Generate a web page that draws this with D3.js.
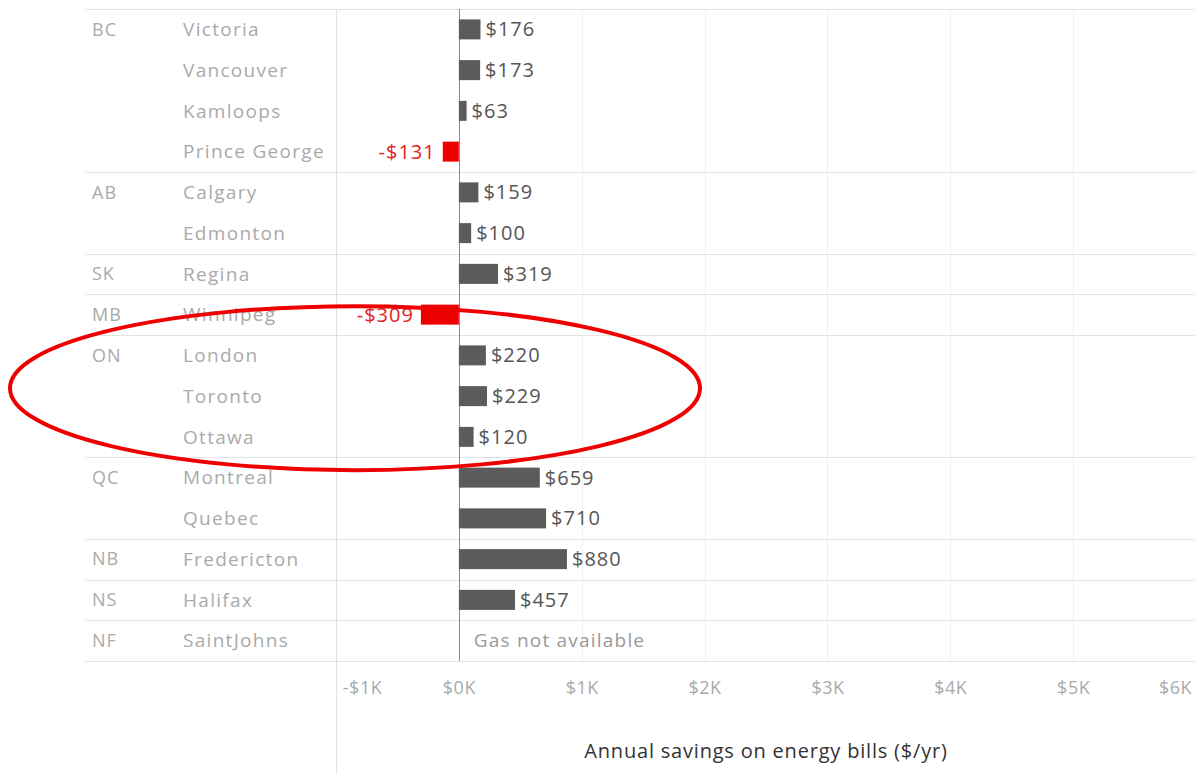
<!DOCTYPE html>
<html>
<head>
<meta charset="utf-8">
<script src="https://cdn.jsdelivr.net/npm/d3@7"></script>
<style>
  html, body { margin: 0; padding: 0; background: #fff; }
  svg { display: block; font-family: "Open Sans", sans-serif; }
</style>
</head>
<body>
<svg id="chart" width="1195" height="774"></svg>
<script>
// ---- data ----
const provinces = ["BC", "BC", "BC", "BC", "AB", "AB", "SK", "MB", "ON", "ON", "ON", "QC", "QC", "NB", "NS", "NF"];
const cities = ["Victoria", "Vancouver", "Kamloops", "Prince George", "Calgary", "Edmonton", "Regina", "Winnipeg",
                "London", "Toronto", "Ottawa", "Montreal", "Quebec", "Fredericton", "Halifax", "SaintJohns"];
const savings = [176, 173, 63, -131, 159, 100, 319, -309, 220, 229, 120, 659, 710, 880, 457, null];
const tickValues = [-1000, 0, 1000, 2000, 3000, 4000, 5000, 6000];
const axisTitle = "Annual savings on energy bills ($/yr)";
const missingNote = "Gas not available";
const highlighted = ["London", "Toronto", "Ottawa"];

// ---- layout ----
const svg = d3.select("#chart");
const W = 1195, H = 774;
const leftEdge = 85, paneLeft = 336, paneRight = 1196;
const topY = 9, bottomY = 661;

const x = d3.scaleLinear().domain([-1000, 6000]).range([paneLeft, paneRight]);
const y = d3.scaleBand().domain(cities).range([topY, bottomY]).paddingInner(0).paddingOuter(0);
const barH = 20;

const fmt = v => (v < 0 ? "-$" : "$") + Math.abs(v);
const tickFmt = v => (v < 0 ? "-$" : "$") + Math.abs(v / 1000) + "K";

// gridlines
svg.append("g").selectAll("line").data(tickValues.filter(v => v > 0)).join("line")
  .attr("x1", d => Math.round(x(d)) + 0.5).attr("x2", d => Math.round(x(d)) + 0.5)
  .attr("y1", topY).attr("y2", bottomY)
  .attr("stroke", "#f0f0f0").attr("stroke-width", 1);

// group separators (horizontal lines where province changes)
const sepRows = [0];
provinces.forEach((p, i) => { if (i > 0 && p !== provinces[i - 1]) sepRows.push(i); });
svg.append("g").selectAll("line").data(sepRows).join("line")
  .attr("x1", leftEdge).attr("x2", W)
  .attr("y1", d => Math.round(y(cities[d])) + 0.5).attr("y2", d => Math.round(y(cities[d])) + 0.5)
  .attr("stroke", "#e3e3e3").attr("stroke-width", 1.2);
svg.append("line").attr("x1", leftEdge).attr("x2", W)
  .attr("y1", bottomY + 0.5).attr("y2", bottomY + 0.5)
  .attr("stroke", "#e3e3e3").attr("stroke-width", 1.2);

// pane divider
svg.append("line").attr("x1", paneLeft + 0.5).attr("x2", paneLeft + 0.5)
  .attr("y1", topY).attr("y2", H).attr("stroke", "#e0e0e0");

// zero line
svg.append("line").attr("x1", Math.round(x(0)) + 0.5).attr("x2", Math.round(x(0)) + 0.5)
  .attr("y1", topY).attr("y2", bottomY).attr("stroke", "#888").attr("stroke-width", 1);

// row labels
const rows = svg.append("g");
rows.selectAll("text.prov").data(cities).join("text").attr("class", "prov")
  .attr("x", 92).attr("y", d => y(d) + y.bandwidth() / 2)
  .attr("dy", "0.35em").attr("font-size", 18).attr("letter-spacing", "1px").attr("fill", "#aaa")
  .text((d, i) => (i === 0 || provinces[i] !== provinces[i - 1]) ? provinces[i] : "");
rows.selectAll("text.city").data(cities).join("text").attr("class", "city")
  .attr("x", 183).attr("y", d => y(d) + y.bandwidth() / 2)
  .attr("dy", "0.35em").attr("font-size", 19).attr("letter-spacing", "1.3px").attr("fill", "#aaa")
  .text(d => d);

// bars
const data = cities.map((c, i) => ({ city: c, v: savings[i] })).filter(d => d.v !== null);
svg.append("g").selectAll("rect").data(data).join("rect")
  .attr("x", d => x(Math.min(0, d.v)))
  .attr("width", d => Math.abs(x(d.v) - x(0)))
  .attr("y", d => y(d.city) + y.bandwidth() / 2 - barH / 2)
  .attr("height", barH)
  .attr("fill", d => d.v < 0 ? "#ee0000" : "#5b5b5b");

// value labels
svg.append("g").selectAll("text").data(data).join("text")
  .attr("x", d => d.v < 0 ? x(d.v) - 7 : x(d.v) + 5)
  .attr("y", d => y(d.city) + y.bandwidth() / 2)
  .attr("dy", "0.35em")
  .attr("text-anchor", d => d.v < 0 ? "end" : "start")
  .attr("font-size", 20).attr("letter-spacing", "1px")
  .attr("fill", d => d.v < 0 ? "#e52020" : "#555")
  .text(d => fmt(d.v));

// missing note
cities.forEach((c, i) => {
  if (savings[i] === null) {
    svg.append("text").attr("x", x(0) + 15).attr("y", y(c) + y.bandwidth() / 2)
      .attr("dy", "0.35em").attr("font-size", 19).attr("letter-spacing", "1.2px").attr("fill", "#999")
      .text(missingNote);
  }
});

// axis
const axis = d3.axisBottom(x).tickValues(tickValues).tickFormat(tickFmt).tickSize(0).tickPadding(0);
const ag = svg.append("g").attr("transform", `translate(0, ${bottomY + 27})`).call(axis);
ag.select(".domain").remove();
ag.selectAll("text").attr("font-size", 18).attr("fill", "#aaa").attr("dy", "0.35em")
  .attr("font-family", "Open Sans, sans-serif").attr("letter-spacing", "0.5px")
  .attr("dx", d => d === -1000 ? 26 : (d === 6000 ? -21 : 0));

svg.append("text").attr("x", 766).attr("y", 758).attr("text-anchor", "middle")
  .attr("font-size", 20).attr("letter-spacing", "0.8px").attr("fill", "#333").text(axisTitle);

// annotation ellipse around highlighted rows
const hy0 = y(highlighted[0]), hy1 = y(highlighted[highlighted.length - 1]) + y.bandwidth();
svg.append("ellipse")
  .attr("cx", 355).attr("cy", (hy0 + hy1) / 2 - 8)
  .attr("rx", 345).attr("ry", 82)
  .attr("fill", "none").attr("stroke", "#ee0000").attr("stroke-width", 4);
</script>
</body>
</html>
